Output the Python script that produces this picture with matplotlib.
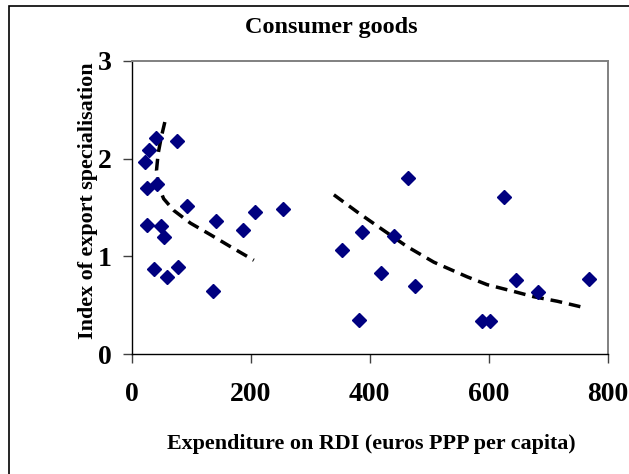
import matplotlib
matplotlib.use("Agg")
import matplotlib.pyplot as plt
from matplotlib.patches import Rectangle

plt.rcParams["font.family"] = ["Liberation Serif", "DejaVu Serif"]
plt.rcParams["font.weight"] = "bold"

# scatter: expenditure on RDI vs index of export specialisation
rdi = [23.5, 29, 41, 77, 26, 43, 93.5, 26.5, 49.5, 55, 142, 207, 254, 187,
       37.5, 60, 77.5, 137,
       464.5, 626, 388, 441, 354, 418.5, 476, 646.5, 683.5, 768.5, 382, 589, 602]
spec = [1.97, 2.09, 2.21, 2.18, 1.70, 1.745, 1.52, 1.32, 1.31, 1.20, 1.36, 1.455,
        1.48, 1.27, 0.875, 0.79, 0.895, 0.65,
        1.80, 1.61, 1.25, 1.21, 1.06, 0.83, 0.70, 0.76, 0.63, 0.77, 0.35, 0.34, 0.34]

# trend lines
trend_lo_x = [56, 50, 44.7, 42, 46, 54, 71, 99, 133, 166, 205.5]
trend_lo_y = [2.375, 2.22, 2.05, 1.88, 1.71, 1.59, 1.47, 1.34, 1.22, 1.10, 0.96]
trend_hi_x = [340, 379, 413, 463, 508, 564, 597.5, 642.5, 676, 715.5, 757]
trend_hi_y = [1.63, 1.455, 1.31, 1.10, 0.94, 0.79, 0.71, 0.64, 0.586, 0.54, 0.48]

xticks = [0, 200, 400, 600, 800]
yticks = [0, 1, 2, 3]

W, H = 629, 474
fig = plt.figure(figsize=(W / 100, H / 100), dpi=100)
ax = fig.add_axes([131.5 / W, 1 - 354 / H, (607.7 - 131.5) / W, (354 - 61) / H])

ax.plot(rdi, spec, linestyle="none", marker="D", markersize=6.7,
        color="#000080", markeredgecolor="#000080", zorder=3)
dash = (0, (3.4, 2.0))
ax.plot(trend_lo_x, trend_lo_y, color="black", lw=2.5, linestyle=dash, zorder=2)
ax.plot(trend_hi_x, trend_hi_y, color="black", lw=2.5, linestyle=dash, zorder=2)

ax.set_xlim(0, 800)
ax.set_ylim(0, 3)
ax.set_xticks(xticks)
ax.set_yticks(yticks)
ax.tick_params(direction="out", length=6.3, width=1, color="#404040",
               labelsize=20)
ax.tick_params(axis="x", pad=14)
ax.tick_params(axis="y", pad=8)
for lab in ax.get_xticklabels() + ax.get_yticklabels():
    lab.set_fontweight("bold")

for side in ("left", "bottom"):
    ax.spines[side].set_color("black")
    ax.spines[side].set_linewidth(1.0)
for side in ("top", "right"):
    ax.spines[side].set_color("#808080")
    ax.spines[side].set_linewidth(1.4)

fig.text(331 / W, 1 - 27.5 / H, "Consumer goods", ha="center", va="center",
         fontsize=17.5, fontweight="bold")
fig.text(371 / W, 1 - 444 / H, "Expenditure on RDI (euros PPP per capita)",
         ha="center", va="center", fontsize=15.8, fontweight="bold")
fig.text(88 / W, 1 - 201 / H, "Index of export specialisation", rotation=90,
         ha="center", va="center", fontsize=15.8, fontweight="bold")

# chart border (cropped at right and bottom)
fig.add_artist(Rectangle((9 / W, -0.05), 1.2, 1 - 6 / H + 0.05,
                         transform=fig.transFigure, fill=False,
                         edgecolor="black", lw=1.2))

fig.savefig("out.png", dpi=100)
